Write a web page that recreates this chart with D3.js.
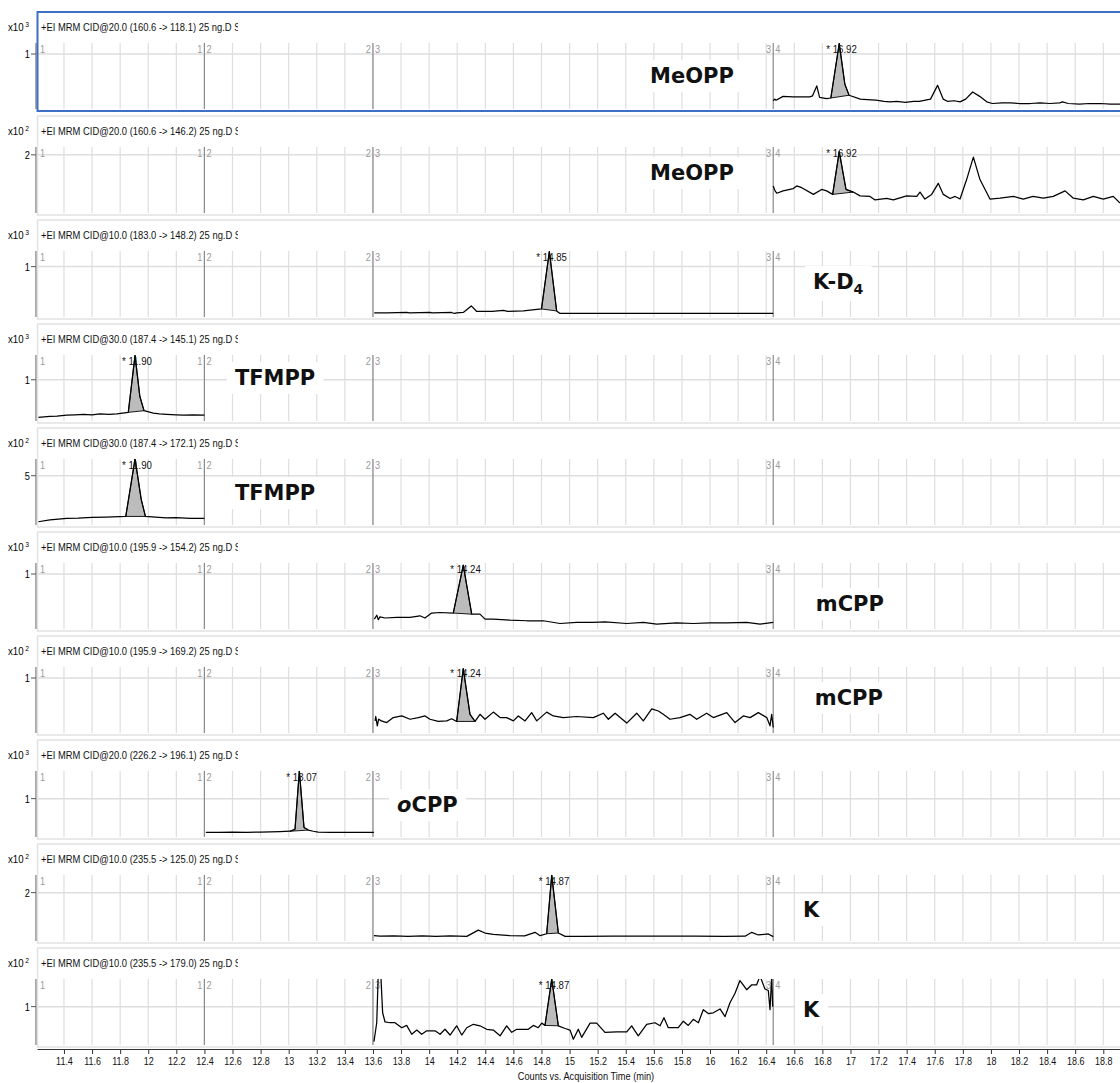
<!DOCTYPE html>
<html>
<head>
<meta charset="utf-8">
<script src="https://cdn.jsdelivr.net/npm/d3@7"></script>
<style>
  body { margin: 0; background: #fff; }
  text { font-family: "Liberation Sans", Arial, sans-serif; }
  .cmp { font-family: "DejaVu Sans", sans-serif; font-weight: bold; }
</style>
</head>
<body>
<svg id="chart" width="1120" height="1083"></svg>
<script>
// tick labels on the time axis (min)
var xTicks = [11.4, 11.6, 11.8, 12, 12.2, 12.4, 12.6, 12.8, 13, 13.2, 13.4, 13.6, 13.8, 14, 14.2, 14.4,
              14.6, 14.8, 15, 15.2, 15.4, 15.6, 15.8, 16, 16.2, 16.4, 16.6, 16.8, 17, 17.2, 17.4, 17.6,
              17.8, 18, 18.2, 18.4, 18.6, 18.8];
var segBreaks = [12.4, 13.6, 16.45];
var segNames = [["1", "2"], ["2", "3"], ["3", "4"]];

var titles = [
  "+EI MRM CID@20.0 (160.6 -> 118.1) 25 ng.D S",
  "+EI MRM CID@20.0 (160.6 -> 146.2) 25 ng.D S",
  "+EI MRM CID@10.0 (183.0 -> 148.2) 25 ng.D S",
  "+EI MRM CID@30.0 (187.4 -> 145.1) 25 ng.D S",
  "+EI MRM CID@30.0 (187.4 -> 172.1) 25 ng.D S",
  "+EI MRM CID@10.0 (195.9 -> 154.2) 25 ng.D S",
  "+EI MRM CID@10.0 (195.9 -> 169.2) 25 ng.D S",
  "+EI MRM CID@20.0 (226.2 -> 196.1) 25 ng.D S",
  "+EI MRM CID@10.0 (235.5 -> 125.0) 25 ng.D S",
  "+EI MRM CID@10.0 (235.5 -> 179.0) 25 ng.D S"
];
var expo = [3, 2, 3, 3, 2, 3, 2, 3, 2, 2];
var yTick = [1, 2, 1, 1, 5, 1, 1, 1, 2, 1];
var yTop = [1.2, 2.27, 1.31, 1.6, 6.7, 1.2, 1.2, 1.72, 2.73, 1.72];
var compounds = ["MeOPP", "MeOPP", "K-D4", "TFMPP", "TFMPP", "mCPP", "mCPP", "oCPP", "K", "K"];
var peakRT = ["16.92", "16.92", "14.85", "11.90", "11.90", "14.24", "14.24", "13.07", "14.87", "14.87"];
var intStart = [16.86, 16.873, 14.80, 11.858, 11.84, 14.172, 14.196, 13.009, 14.837, 14.825];
var intEnd = [16.99, 17.02, 14.908, 11.97, 11.98, 14.303, 14.327, 13.14, 14.92, 14.92];

// [time, counts in units of 10^expo]
var trace1 = [[16.45,0.15],[16.46,0.18],[16.47,0.16],[16.52,0.23],[16.59,0.22],[16.71,0.22],[16.73,0.24],[16.76,0.42],
  [16.78,0.21],[16.83,0.19],[16.86,0.2],[16.92,1.19],[16.96,0.45],[16.99,0.25],[17.07,0.18],[17.12,0.17],[17.18,0.16],
  [17.24,0.14],[17.28,0.13],[17.33,0.14],[17.39,0.12],[17.45,0.14],[17.49,0.14],[17.57,0.18],[17.62,0.43],[17.66,0.18],
  [17.69,0.14],[17.74,0.15],[17.78,0.13],[17.82,0.18],[17.87,0.31],[17.92,0.23],[17.97,0.13],[18.01,0.10],[18.08,0.11],
  [18.14,0.11],[18.2,0.10],[18.28,0.10],[18.35,0.11],[18.42,0.10],[18.49,0.11],[18.51,0.13],[18.55,0.10],[18.63,0.09],
  [18.7,0.10],[18.78,0.10],[18.85,0.09],[18.92,0.09]];
var trace2 = [[16.45,0.93],[16.463,0.76],[16.475,0.68],[16.52,0.76],[16.593,0.84],[16.617,0.93],[16.653,0.87],[16.736,0.64],
  [16.795,0.81],[16.83,0.76],[16.873,0.64],[16.92,2.11],[16.968,0.81],[17.02,0.72],[17.068,0.59],[17.139,0.57],[17.175,0.45],
  [17.258,0.5],[17.305,0.45],[17.40,0.59],[17.472,0.57],[17.495,0.72],[17.53,0.48],[17.578,0.64],[17.625,1.02],[17.661,0.64],
  [17.709,0.5],[17.745,0.57],[17.78,0.48],[17.827,1.15],[17.875,1.92],[17.922,1.15],[17.993,0.48],[18.065,0.51],[18.16,0.57],
  [18.23,0.48],[18.30,0.57],[18.373,0.51],[18.444,0.57],[18.528,0.76],[18.587,0.51],[18.658,0.45],[18.729,0.57],[18.80,0.48],
  [18.871,0.57],[18.919,0.34]];
var trace3 = [[13.609,0.08],[13.7,0.08],[13.84,0.09],[13.86,0.08],[14.006,0.09],[14.02,0.08],[14.16,0.09],[14.18,0.07],
  [14.196,0.08],[14.243,0.09],[14.30,0.22],[14.339,0.11],[14.45,0.11],[14.528,0.13],[14.56,0.11],[14.671,0.12],[14.80,0.16],
  [14.856,1.30],[14.908,0.12],[14.932,0.07],[15.2,0.07],[15.6,0.07],[16.0,0.07],[16.45,0.07]];
var trace4 = [[11.217,0.09],[11.30,0.11],[11.35,0.12],[11.42,0.14],[11.48,0.15],[11.538,0.16],[11.6,0.15],[11.656,0.17],
  [11.72,0.16],[11.776,0.17],[11.858,0.21],[11.906,1.59],[11.94,0.6],[11.97,0.25],[12.036,0.19],[12.08,0.17],[12.13,0.16],
  [12.2,0.15],[12.25,0.14],[12.32,0.15],[12.40,0.14]];
var trace5 = [[11.217,0.33],[11.30,0.53],[11.36,0.6],[11.42,0.67],[11.5,0.7],[11.6,0.77],[11.7,0.8],[11.84,0.87],
  [11.906,6.7],[11.95,2.6],[11.98,0.87],[12.05,0.8],[12.13,0.73],[12.2,0.75],[12.3,0.67],[12.4,0.67]];
var trace6 = [[13.61,0.18],[13.627,0.25],[13.638,0.17],[13.65,0.22],[13.686,0.2],[13.769,0.21],[13.864,0.21],[13.935,0.24],
  [13.97,0.2],[14.018,0.29],[14.077,0.3],[14.172,0.29],[14.243,1.16],[14.303,0.27],[14.362,0.27],[14.398,0.18],[14.457,0.18],
  [14.576,0.16],[14.695,0.15],[14.813,0.15],[14.932,0.10],[15.05,0.12],[15.169,0.12],[15.252,0.13],[15.407,0.10],[15.525,0.12],
  [15.62,0.09],[15.763,0.11],[15.88,0.10],[15.999,0.11],[16.119,0.11],[16.261,0.12],[16.356,0.09],[16.45,0.12]];
var trace7 = [[13.615,0.22],[13.62,0.3],[13.631,0.13],[13.64,0.25],[13.66,0.22],[13.698,0.19],[13.745,0.28],[13.805,0.31],
  [13.864,0.25],[13.923,0.28],[13.971,0.31],[14.006,0.25],[14.065,0.21],[14.125,0.22],[14.161,0.26],[14.196,0.21],[14.243,1.17],
  [14.291,0.34],[14.327,0.21],[14.362,0.34],[14.398,0.25],[14.457,0.38],[14.505,0.28],[14.552,0.28],[14.60,0.22],[14.635,0.31],
  [14.683,0.22],[14.73,0.37],[14.766,0.22],[14.837,0.38],[14.884,0.31],[14.955,0.28],[15.05,0.30],[15.169,0.28],[15.24,0.36],
  [15.276,0.25],[15.324,0.36],[15.407,0.18],[15.478,0.36],[15.525,0.22],[15.585,0.44],[15.632,0.40],[15.667,0.34],[15.715,0.25],
  [15.786,0.28],[15.857,0.34],[15.905,0.25],[15.976,0.36],[16.023,0.28],[16.119,0.37],[16.178,0.19],[16.237,0.31],[16.285,0.28],
  [16.344,0.37],[16.404,0.28],[16.427,0.13],[16.439,0.34],[16.45,0.10]];
var trace8 = [[12.41,0.12],[12.5,0.12],[12.6,0.13],[12.7,0.12],[12.8,0.13],[12.938,0.14],[13.009,0.15],[13.045,0.2],
  [13.076,1.72],[13.109,0.25],[13.14,0.18],[13.175,0.15],[13.21,0.13],[13.3,0.12],[13.4,0.12],[13.5,0.12],[13.607,0.12]];
var trace9 = [[13.607,0.22],[13.65,0.2],[13.75,0.21],[13.85,0.19],[13.95,0.21],[14.05,0.19],[14.15,0.21],[14.268,0.19],
  [14.35,0.45],[14.398,0.33],[14.457,0.27],[14.576,0.22],[14.68,0.21],[14.754,0.36],[14.79,0.22],[14.837,0.3],[14.873,2.73],
  [14.92,0.33],[14.968,0.19],[15.1,0.19],[15.3,0.2],[15.5,0.2],[15.7,0.2],[15.9,0.2],[16.1,0.19],[16.25,0.2],[16.297,0.36],
  [16.344,0.25],[16.415,0.29],[16.45,0.18]];
var trace10 = [[13.607,0.09],[13.627,0.58],[13.638,1.9],[13.655,1.9],[13.669,0.84],[13.686,0.6],[13.721,0.58],[13.757,0.58],
  [13.805,0.45],[13.84,0.51],[13.876,0.28],[13.912,0.39],[13.947,0.28],[13.983,0.37],[14.042,0.37],[14.078,0.28],[14.113,0.41],
  [14.149,0.26],[14.196,0.5],[14.232,0.26],[14.268,0.45],[14.315,0.54],[14.362,0.5],[14.41,0.41],[14.457,0.39],[14.505,0.24],
  [14.552,0.5],[14.588,0.33],[14.624,0.41],[14.671,0.41],[14.706,0.41],[14.742,0.51],[14.777,0.45],[14.802,0.57],[14.825,0.51],
  [14.873,1.72],[14.92,0.5],[14.968,0.43],[15.003,0.39],[15.027,0.15],[15.062,0.41],[15.086,0.2],[15.146,0.57],[15.193,0.57],
  [15.252,0.33],[15.336,0.34],[15.407,0.34],[15.442,0.5],[15.489,0.24],[15.549,0.54],[15.608,0.58],[15.644,0.5],[15.672,0.71],
  [15.703,0.45],[15.774,0.45],[15.81,0.62],[15.845,0.51],[15.881,0.67],[15.917,0.58],[15.952,0.92],[15.988,0.82],[16.023,0.84],
  [16.071,0.94],[16.107,0.74],[16.142,1.1],[16.178,1.35],[16.213,1.68],[16.261,1.44],[16.297,1.57],[16.332,1.57],[16.356,1.8],
  [16.391,1.46],[16.415,1.42],[16.427,0.92],[16.439,1.78],[16.446,1.0]];
var traces = [trace1, trace2, trace3, trace4, trace5, trace6, trace7, trace8, trace9, trace10];

// where the compound name sits: start time, px below plot top
var namePos = [[15.573, 40], [15.573, 33], [16.733, 38], [12.617, 30], [12.617, 41],
               [16.753, 48], [16.746, 38], [13.772, 41], [16.662, 42], [16.662, 38]];

var svg = d3.select("#chart");
var left = 37, right = 1120;
var x = d3.scaleLinear().domain([11.208, 18.919]).range([left, right]);
var top0 = 12, step = 104;
var squeeze = 0.84;   // the instrument font is a narrow one

// narrow text: squeezed horizontally around its anchor point
function ntext(parent, px, py, size, anchor) {
  return parent.append("text")
    .attr("transform", "translate(" + px + "," + py + ") scale(" + squeeze + ",1)")
    .attr("font-size", size)
    .attr("text-anchor", anchor || "start");
}

traces.forEach(function(tr, i) {
  var T = top0 + i * step;
  var pTop = T + 31, pBot = T + 97;
  var y = d3.scaleLinear().domain([0, yTop[i]]).range([pBot, pTop]);
  var g = svg.append("g").attr("class", "panel");

  g.append("clipPath").attr("id", "clip" + i)
    .append("rect").attr("x", left).attr("y", pTop).attr("width", right - left).attr("height", pBot - pTop);
  g.append("clipPath").attr("id", "tclip" + i)
    .append("rect").attr("x", 0).attr("y", T).attr("width", 238).attr("height", 30);

  // grid
  g.append("g").selectAll("line").data(xTicks).join("line")
    .attr("x1", d => x(d)).attr("x2", d => x(d))
    .attr("y1", pTop).attr("y2", pBot)
    .attr("stroke", "#dedede").attr("stroke-width", 1.2);
  g.append("line")
    .attr("x1", left).attr("x2", right)
    .attr("y1", y(yTick[i])).attr("y2", y(yTick[i]))
    .attr("stroke", "#dedede").attr("stroke-width", 1.5);

  // compound name with a white box
  var nm = g.append("text").attr("class", "cmp")
    .attr("x", x(namePos[i][0])).attr("y", pTop + namePos[i][1])
    .attr("font-size", 21).attr("fill", "#111");
  var c = compounds[i];
  if (c == "K-D4") {
    nm.append("tspan").text("K-D");
    nm.append("tspan").attr("font-size", 14).attr("dy", 5).text("4");
  } else if (c == "oCPP") {
    nm.append("tspan").attr("font-style", "italic").text("o");
    nm.append("tspan").text("CPP");
  } else {
    nm.text(c);
  }
  var bb = nm.node().getBBox();
  g.insert("rect", "text.cmp")
    .attr("x", bb.x - 8).attr("y", bb.y - 4)
    .attr("width", bb.width + 16).attr("height", bb.height + 8)
    .attr("fill", "#fff");

  // segment boundaries
  g.append("g").selectAll("line").data(segBreaks).join("line")
    .attr("x1", d => x(d)).attr("x2", d => x(d))
    .attr("y1", pTop).attr("y2", pBot)
    .attr("stroke", "#8a8a8a").attr("stroke-width", 1.2);
  var segLbl = g.append("g").attr("fill", "#9a9a9a");
  ntext(segLbl, left + 3, pTop + 10, 11).text("1");
  segBreaks.forEach(function(b, k) {
    ntext(segLbl, x(b) - 2, pTop + 10, 11, "end").text(segNames[k][0]);
    ntext(segLbl, x(b) + 2, pTop + 10, 11).text(segNames[k][1]);
  });

  // trace and integrated peak
  var line = d3.line().x(d => x(d[0])).y(d => y(d[1]));
  var pk = tr.filter(d => d[0] >= intStart[i] - 1e-6 && d[0] <= intEnd[i] + 1e-6);
  var plot = g.append("g").attr("clip-path", "url(#clip" + i + ")");
  plot.append("path").attr("d", line(pk) + "Z")
    .attr("fill", "#bcbcbc").attr("stroke", "#000").attr("stroke-width", 0.9);
  plot.append("path").attr("d", line(tr))
    .attr("fill", "none").attr("stroke", "#000").attr("stroke-width", 1.25)
    .attr("stroke-linejoin", "round");
  var apex = pk.reduce((a, b) => b[1] > a[1] ? b : a);
  ntext(g, x(apex[0]) - 13, pTop + 10, 11.5).attr("fill", "#111").text("* " + peakRT[i]);

  // y axis
  g.append("line").attr("x1", left - 1).attr("x2", left - 1).attr("y1", pTop).attr("y2", pBot)
    .attr("stroke", "#555").attr("stroke-width", 1);
  g.append("line").attr("x1", left - 6).attr("x2", left - 1)
    .attr("y1", y(yTick[i])).attr("y2", y(yTick[i])).attr("stroke", "#555");
  ntext(g, left - 7, y(yTick[i]) + 4, 11, "end").text(yTick[i]);

  // header
  var ex = ntext(g, 8, T + 19, 11.5);
  ex.append("tspan").text("x10");
  ex.append("tspan").attr("dx", 2).attr("dy", -4).attr("font-size", 8).text(expo[i]);
  var tg = g.append("g").attr("clip-path", "url(#tclip" + i + ")");
  ntext(tg, left + 4, T + 19, 11.2).attr("fill", "#111").text(titles[i]);

  // panel frame
  g.append("rect").attr("x", left + 0.5).attr("y", T).attr("width", right - left + 2).attr("height", 99)
    .attr("fill", "none")
    .attr("stroke", i == 0 ? "#3d6fc4" : "#e2e2e2")
    .attr("stroke-width", i == 0 ? 2 : 1.5);
});

// shared time axis
var axisY = top0 + 9 * step + 101;
var ax = svg.append("g").attr("transform", "translate(0," + axisY + ")")
  .call(d3.axisBottom(x).tickValues(xTicks).tickSize(5).tickSizeOuter(0)
    .tickFormat(d => String(+d.toFixed(1))));
ax.selectAll("text").attr("font-size", 11.5).attr("fill", "#111")
  .attr("transform", "scale(" + (squeeze - 0.06) + ",1)")
  .style("font-family", "\"Liberation Sans\", Arial, sans-serif");
ax.selectAll("line").attr("stroke", "#333");
ax.select(".domain").attr("stroke", "#333");

ntext(svg, 586, 1080, 11, "middle").attr("fill", "#111").text("Counts vs. Acquisition Time (min)");
</script>
</body>
</html>
